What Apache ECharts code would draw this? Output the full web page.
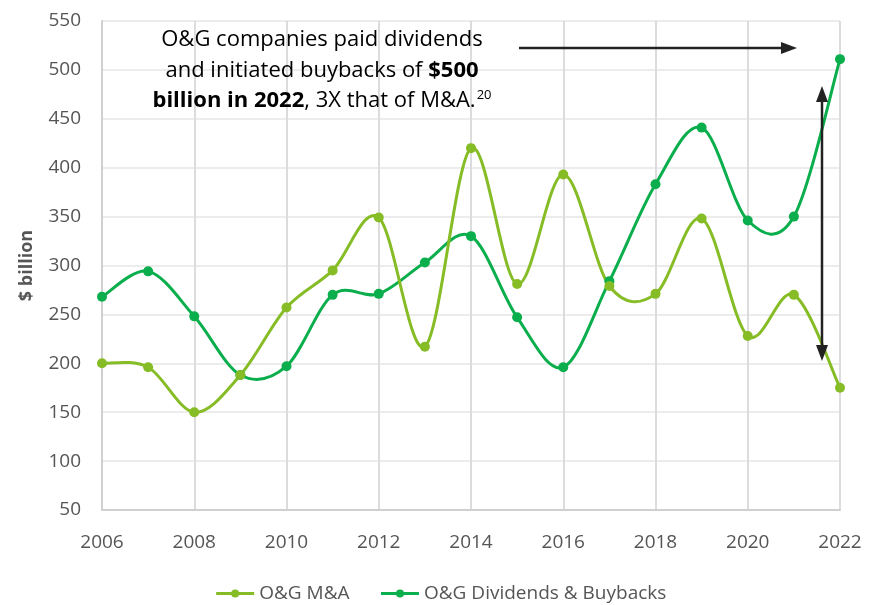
<!DOCTYPE html>
<html>
<head>
<meta charset="utf-8">
<script src="https://cdn.jsdelivr.net/npm/echarts@6/dist/echarts.min.js"></script>
<style>
  html, body { margin: 0; padding: 0; background: #fff; }
  #main { width: 881px; height: 605px; }
</style>
</head>
<body>
<div id="main"></div>
<script>
  // values, $ billion
  var years = ['2006', '2007', '2008', '2009', '2010', '2011', '2012', '2013', '2014',
               '2015', '2016', '2017', '2018', '2019', '2020', '2021', '2022'];
  var mna = [200, 196, 150, 188, 257, 295, 349, 217, 420, 281, 393, 279, 271, 348, 228, 270, 175];
  var dividends = [268, 294, 248, 188, 197, 270, 271, 303, 330, 247, 196, 284, 383, 441, 346, 350, 511];

  var green = '#86bc25', darkGreen = '#0aae4c';
  var font = '"Open Sans", "Noto Sans", sans-serif';
  var chart = echarts.init(document.getElementById('main'));

  // dots only; the curve itself is drawn by the custom series below
  function dotSeries(name, data, color, z) {
    return {
      type: 'line',
      name: name,
      data: data,
      symbol: 'circle',
      symbolSize: 10,
      lineStyle: {width: 3, color: color, opacity: 0},
      itemStyle: {color: color},
      z: z
    };
  }

  // excel-like smoothing (catmull-rom beziers through every point)
  function curveSeries(name, data, color, z) {
    return {
      type: 'custom',
      name: name + ' curve',
      silent: true,
      z: z,
      data: data.map(function (v, i) { return [i, v]; }),
      encode: {x: 0, y: 1},
      renderItem: function (params, api) {
        if (params.dataIndex !== 0) return;
        var pts = data.map(function (v, i) { return api.coord([i, v]); });
        var d = 'M' + pts[0][0] + ' ' + pts[0][1];
        for (var i = 0; i < pts.length - 1; i++) {
          var p0 = pts[i - 1] || pts[i], p1 = pts[i], p2 = pts[i + 1], p3 = pts[i + 2] || pts[i + 1];
          var c1 = [p1[0] + (p2[0] - p0[0]) / 6, p1[1] + (p2[1] - p0[1]) / 6];
          var c2 = [p2[0] - (p3[0] - p1[0]) / 6, p2[1] - (p3[1] - p1[1]) / 6];
          d += ' C' + c1.join(' ') + ' ' + c2.join(' ') + ' ' + p2.join(' ');
        }
        return {type: 'path', shape: {pathData: d}, style: {fill: 'none', stroke: color, lineWidth: 3}};
      }
    };
  }

  var textRich = {
    n: {fontSize: 22, fontFamily: font, color: '#222'},
    b: {fontSize: 22, fontFamily: font, fontWeight: 'bold', color: '#222'},
    s: {fontSize: 13, fontFamily: font, color: '#222', padding: [0, 0, 12, 1]}
  };
  function noteLine(text, y) {
    return {
      type: 'text', x: 322, y: y, z: 10,
      style: {text: text, align: 'center', verticalAlign: 'middle', rich: textRich}
    };
  }

  chart.setOption({
    animation: false,
    textStyle: {fontFamily: font},
    grid: {left: 102, right: 41, top: 21, bottom: 95},
    legend: {
      top: 579,
      left: 'center',
      itemGap: 30,
      itemWidth: 38,
      itemHeight: 10,
      textStyle: {fontSize: 19, color: '#555', fontFamily: font},
      data: [
        {name: 'O&G M&A', lineStyle: {opacity: 1, width: 3}},
        {name: 'O&G Dividends & Buybacks', lineStyle: {opacity: 1, width: 3}}
      ]
    },
    xAxis: {
      type: 'category',
      boundaryGap: false,
      data: years,
      axisLine: {lineStyle: {color: '#d0d0d0', width: 2}},
      axisTick: {show: false},
      axisLabel: {interval: 1, color: '#555', fontSize: 19, margin: 23},
      splitLine: {show: true, interval: 1, lineStyle: {color: '#dcdcdc', width: 2}}
    },
    yAxis: {
      type: 'value',
      min: 50,
      max: 550,
      interval: 50,
      name: '$ billion',
      nameLocation: 'middle',
      nameGap: 66,
      nameTextStyle: {fontSize: 18, fontWeight: 'bold', color: '#555'},
      axisLine: {show: true, lineStyle: {color: '#d0d0d0', width: 2}},
      axisLabel: {color: '#555', fontSize: 19, margin: 21},
      splitLine: {lineStyle: {color: '#ececec', width: 2}}
    },
    series: [
      curveSeries('O&G Dividends & Buybacks', dividends, darkGreen, 2),
      curveSeries('O&G M&A', mna, green, 3),
      dotSeries('O&G Dividends & Buybacks', dividends, darkGreen, 4),
      dotSeries('O&G M&A', mna, green, 5)
    ],
    graphic: [
      noteLine('{n|O&G companies paid dividends}', 40),
      noteLine('{n|and initiated buybacks of }{b|$500}', 71),
      noteLine('{b|billion in 2022}{n|, 3X that of M&A.}{s|20}', 101),
      {
        type: 'line', z: 10,
        shape: {x1: 519, y1: 48, x2: 784, y2: 48},
        style: {stroke: '#222', lineWidth: 2.5}
      },
      {
        type: 'polygon', z: 10,
        shape: {points: [[797, 48], [781, 42], [781, 54]]},
        style: {fill: '#222'}
      },
      {
        type: 'line', z: 10,
        shape: {x1: 822, y1: 98, x2: 822, y2: 350},
        style: {stroke: '#222', lineWidth: 2.5}
      },
      {
        type: 'polygon', z: 10,
        shape: {points: [[822, 86], [816, 102], [828, 102]]},
        style: {fill: '#222'}
      },
      {
        type: 'polygon', z: 10,
        shape: {points: [[822, 361], [816, 345], [828, 345]]},
        style: {fill: '#222'}
      }
    ]
  });
</script>
</body>
</html>
